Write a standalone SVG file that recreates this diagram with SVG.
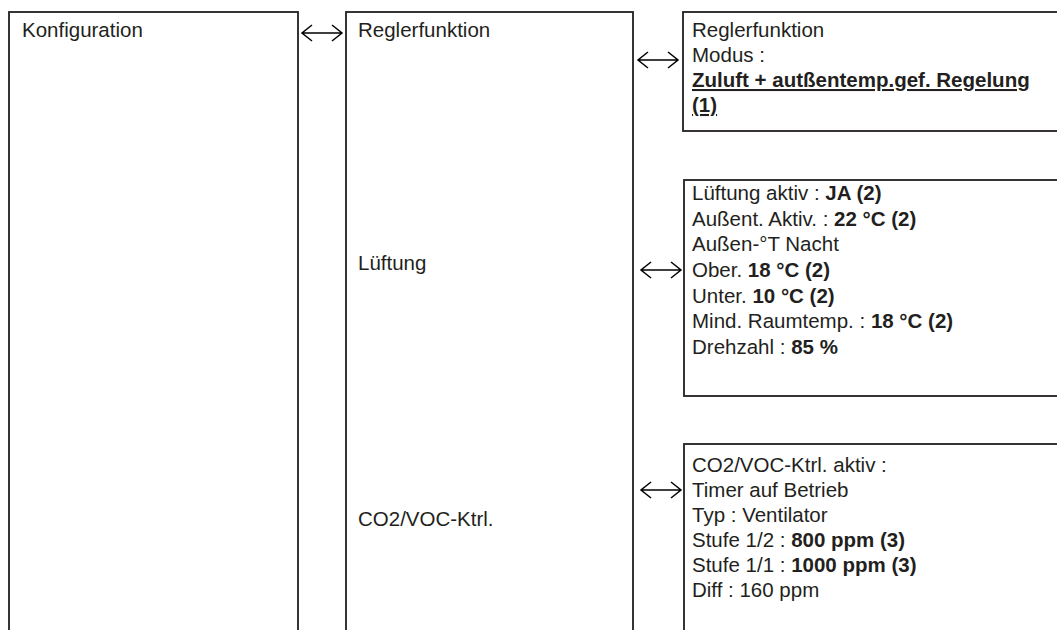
<svg xmlns="http://www.w3.org/2000/svg" width="1057" height="630" viewBox="0 0 1057 630">
<style>
.box{fill:#fff;stroke:#231f20;stroke-width:1.8}
.t{font-family:"Liberation Sans",Arial,sans-serif;font-size:20.5px;fill:#231f20}
.b{font-weight:bold}
.u{text-decoration:underline}
.arr{fill:none;stroke:#000;stroke-width:1.5}
</style>
<rect width="1057" height="630" fill="#fff"/>
<g id="konfiguration">
<rect class="box" x="9" y="12" width="289" height="640"/>
<text class="t" x="22" y="37">Konfiguration</text>
</g>
<g id="reglerfunktion">
<rect class="box" x="346" y="12" width="287" height="640"/>
<text class="t" x="358" y="37">Reglerfunktion</text>
<text class="t" x="358" y="270">Lüftung</text>
<text class="t" x="358" y="526">CO2/VOC-Ktrl.</text>
</g>
<g id="modus">
<rect class="box" x="683" y="12" width="400" height="119"/>
<text class="t" x="692" y="37">Reglerfunktion</text>
<text class="t" x="692" y="62">Modus :</text>
<text class="t b u" x="692" y="87">Zuluft + autßentemp.gef. Regelung</text>
<text class="t b u" x="692" y="112">(1)</text>
</g>
<g id="lueftung">
<rect class="box" x="684" y="180" width="400" height="216"/>
<text class="t" x="692" y="200">Lüftung aktiv : <tspan class="b">JA (2)</tspan></text>
<text class="t" x="692" y="226">Außent. Aktiv. : <tspan class="b">22 °C (2)</tspan></text>
<text class="t" x="692" y="251">Außen-°T Nacht</text>
<text class="t" x="692" y="277">Ober. <tspan class="b">18 °C (2)</tspan></text>
<text class="t" x="692" y="303">Unter. <tspan class="b">10 °C (2)</tspan></text>
<text class="t" x="692" y="328">Mind. Raumtemp. : <tspan class="b">18 °C (2)</tspan></text>
<text class="t" x="692" y="354">Drehzahl : <tspan class="b">85 %</tspan></text>
</g>
<g id="co2">
<rect class="box" x="684" y="444" width="400" height="240"/>
<text class="t" x="692" y="472">CO2/VOC-Ktrl. aktiv :</text>
<text class="t" x="692" y="497">Timer auf Betrieb</text>
<text class="t" x="692" y="522">Typ : Ventilator</text>
<text class="t" x="692" y="547">Stufe 1/2 : <tspan class="b">800 ppm (3)</tspan></text>
<text class="t" x="692" y="572">Stufe 1/1 : <tspan class="b">1000 ppm (3)</tspan></text>
<text class="t" x="692" y="597">Diff : 160 ppm</text>
</g>
<g id="connectors">
<path class="arr" d="M302 33H342M312 25L302 33L312 41M332 25L342 33L332 41"/>
<path class="arr" d="M638 60H678M648 52L638 60L648 68M668 52L678 60L668 68"/>
<path class="arr" d="M641 270H681M651 262L641 270L651 278M671 262L681 270L671 278"/>
<path class="arr" d="M641 490H681M651 482L641 490L651 498M671 482L681 490L671 498"/>
</g>
</svg>
